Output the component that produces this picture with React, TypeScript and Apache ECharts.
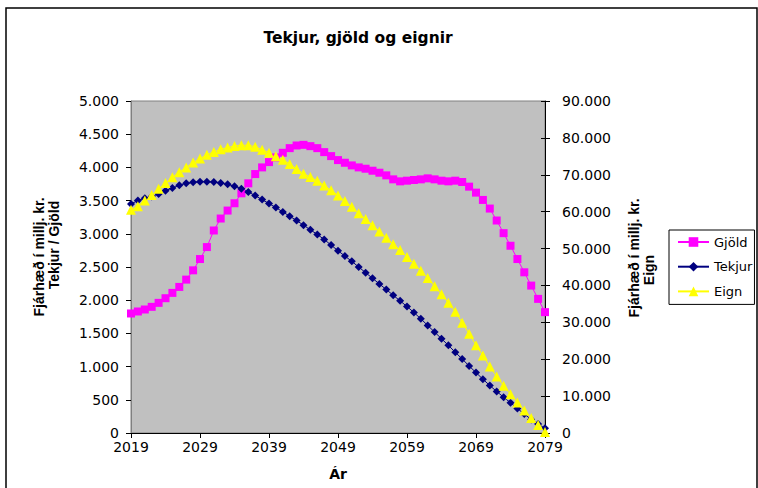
import React, { useEffect, useRef } from "react";
import * as echarts from "echarts";

const years = [
  "2019","2020","2021","2022","2023","2024","2025","2026","2027","2028",
  "2029","2030","2031","2032","2033","2034","2035","2036","2037","2038",
  "2039","2040","2041","2042","2043","2044","2045","2046","2047","2048",
  "2049","2050","2051","2052","2053","2054","2055","2056","2057","2058",
  "2059","2060","2061","2062","2063","2064","2065","2066","2067","2068",
  "2069","2070","2071","2072","2073","2074","2075","2076","2077","2078",
  "2079",
];

const gjold = [
  1800, 1830, 1860, 1900, 1960, 2030, 2110, 2200, 2310, 2450,
  2620, 2800, 3050, 3230, 3350, 3460, 3610, 3760, 3900, 4000,
  4080, 4150, 4220, 4290, 4330, 4340, 4320, 4290, 4230, 4170,
  4110, 4070, 4030, 4000, 3980, 3950, 3920, 3880, 3820, 3790,
  3800, 3810, 3820, 3835, 3820, 3800, 3790, 3800, 3780, 3710,
  3620, 3510, 3380, 3200, 3010, 2820, 2620, 2420, 2220, 2020,
  1820,
];

const tekjur = [
  3450, 3500, 3535, 3560, 3600, 3650, 3690, 3730, 3760, 3775,
  3785, 3785, 3780, 3765, 3745, 3715, 3680, 3630, 3575, 3515,
  3455, 3395, 3330, 3265, 3200, 3130, 3060, 2990, 2915, 2830,
  2745, 2665, 2585, 2500, 2415, 2330, 2245, 2160, 2075, 1990,
  1905, 1815, 1720, 1620, 1520, 1420, 1320, 1215, 1115, 1010,
  910, 810, 715, 625, 540, 455, 370, 285, 205, 135,
  70,
];

const eign = [
  60500, 61500, 63000, 64500, 66200, 67800, 69300, 70700, 72000, 73300,
  74400, 75400, 76200, 76900, 77400, 77800, 78000, 78000, 77600, 76800,
  76000, 75000, 74100, 72900, 71600, 70300, 69400, 68400, 67100, 65800,
  64400, 62900, 61300, 59600, 58000, 56300, 54600, 52900, 51200, 49600,
  47700, 45900, 44000, 42000, 39800, 37600, 35300, 32900, 29900, 26900,
  23800, 21000, 18000, 15300, 12800, 10500, 8300, 6100, 4100, 2200,
  300,
];

const seriesNames = ["Gjöld", "Tekjur", "Eign"];
const titleText = "Tekjur, gjöld og eignir";
const xAxisName = "Ár";
const leftTitleLines = ["Fjárhæð í millj. kr.", "Tekjur / Gjöld"];
const rightTitleLines = ["Fjárhæð í millj. kr.", "Eign"];

const fmt = (v: number) => String(v).replace(/\B(?=(\d{3})+(?!\d))/g, ".");

const FONT = "'DejaVu Sans', sans-serif";
const TITLE_FONT = "'Liberation Sans', Arial, sans-serif";

const rotText = (text: string, x: number, y: number) => ({
  type: "text",
  x,
  y,
  rotation: Math.PI / 2,
  style: {
    text,
    font: "bold 14px " + TITLE_FONT,
    fill: "#000",
    textAlign: "center",
    textVerticalAlign: "middle",
  },
});

export default function App() {
  const ref = useRef<HTMLDivElement>(null);

  useEffect(() => {
    if (!ref.current) return;
    const chart = echarts.init(ref.current, undefined, { renderer: "svg" });
    const option: any = {
      animation: false,
      backgroundColor: "#ffffff",
      title: {
        text: titleText,
        left: 358,
        top: 30,
        textAlign: "center",
        padding: 0,
        textStyle: { fontFamily: FONT, fontWeight: "bold", fontSize: 15.5, color: "#000" },
      },
      grid: {
        left: 131,
        top: 101,
        width: 414,
        height: 332,
        show: true,
        backgroundColor: "#C0C0C0",
        borderColor: "#808080",
        borderWidth: 1,
      },
      legend: {
        data: seriesNames,
        orient: "vertical",
        left: 669,
        top: 230,
        itemWidth: 31,
        itemHeight: 12,
        itemGap: 10.7,
        padding: [5, 2, 6, 8],
        borderColor: "#000",
        borderWidth: 1,
        backgroundColor: "#fff",
        textStyle: { fontFamily: FONT, fontSize: 13, color: "#000", lineHeight: 14 },
      },
      xAxis: {
        type: "category",
        data: years,
        boundaryGap: false,
        name: xAxisName,
        nameLocation: "middle",
        nameGap: 34,
        nameTextStyle: { fontFamily: FONT, fontWeight: "bold", fontSize: 14, color: "#000" },
        axisLine: { lineStyle: { color: "#000", width: 1 } },
        axisTick: { interval: 9, length: 5, lineStyle: { color: "#000" } },
        axisLabel: { interval: 9, margin: 7, fontFamily: FONT, fontSize: 14, color: "#000" },
        splitLine: { show: false },
      },
      yAxis: [
        {
          type: "value",
          min: 0,
          max: 5000,
          interval: 500,
          position: "left",
          axisLine: { show: true, lineStyle: { color: "#808080", width: 1 } },
          axisTick: { show: true, length: 5, lineStyle: { color: "#000" } },
          axisLabel: { margin: 12, fontFamily: FONT, fontSize: 14, color: "#000", formatter: fmt },
          splitLine: { show: false },
        },
        {
          type: "value",
          min: 0,
          max: 90000,
          interval: 10000,
          position: "right",
          axisLine: { show: true, lineStyle: { color: "#000", width: 1 } },
          axisTick: { show: true, length: 5, lineStyle: { color: "#000" } },
          axisLabel: { margin: 17, fontFamily: FONT, fontSize: 14, color: "#000", formatter: fmt },
          splitLine: { show: false },
        },
        {
          type: "value",
          min: 0,
          max: 90000,
          interval: 10000,
          position: "right",
          axisLine: { show: false },
          axisTick: { show: true, inside: true, length: 4, lineStyle: { color: "#000" } },
          axisLabel: { show: false },
          splitLine: { show: false },
        },
      ],
      graphic: [
        {
          type: "rect",
          shape: { x: 6, y: 8, width: 751, height: 500 },
          style: { fill: "none", stroke: "#000", lineWidth: 1.5 },
          z: 100,
          silent: true,
        },
        rotText(leftTitleLines[0], 39, 257),
        rotText(leftTitleLines[1], 54, 245),
        rotText(rightTitleLines[0], 634, 258),
        rotText(rightTitleLines[1], 649, 270),
      ],
      series: [
        {
          name: seriesNames[0],
          type: "line",
          yAxisIndex: 0,
          data: gjold,
          symbol: "rect",
          symbolSize: 8,
          showAllSymbol: true,
          itemStyle: { color: "#FF00FF" },
          lineStyle: { color: "#FF00FF", width: 1 },
        },
        {
          name: seriesNames[1],
          type: "line",
          yAxisIndex: 0,
          data: tekjur,
          symbol: "diamond",
          symbolSize: 8,
          showAllSymbol: true,
          itemStyle: { color: "#000080" },
          lineStyle: { color: "#000080", width: 1 },
        },
        {
          name: seriesNames[2],
          type: "line",
          yAxisIndex: 1,
          data: eign,
          symbol: "triangle",
          symbolSize: 10,
          showAllSymbol: true,
          itemStyle: { color: "#FFFF00" },
          lineStyle: { color: "#FFFF00", width: 1 },
        },
      ],
    };
    chart.setOption(option);
    return () => chart.dispose();
  }, []);

  return (
    <div
      ref={ref}
      style={{ position: "absolute", left: 0, top: 0, width: 758, height: 488 }}
    />
  );
}
